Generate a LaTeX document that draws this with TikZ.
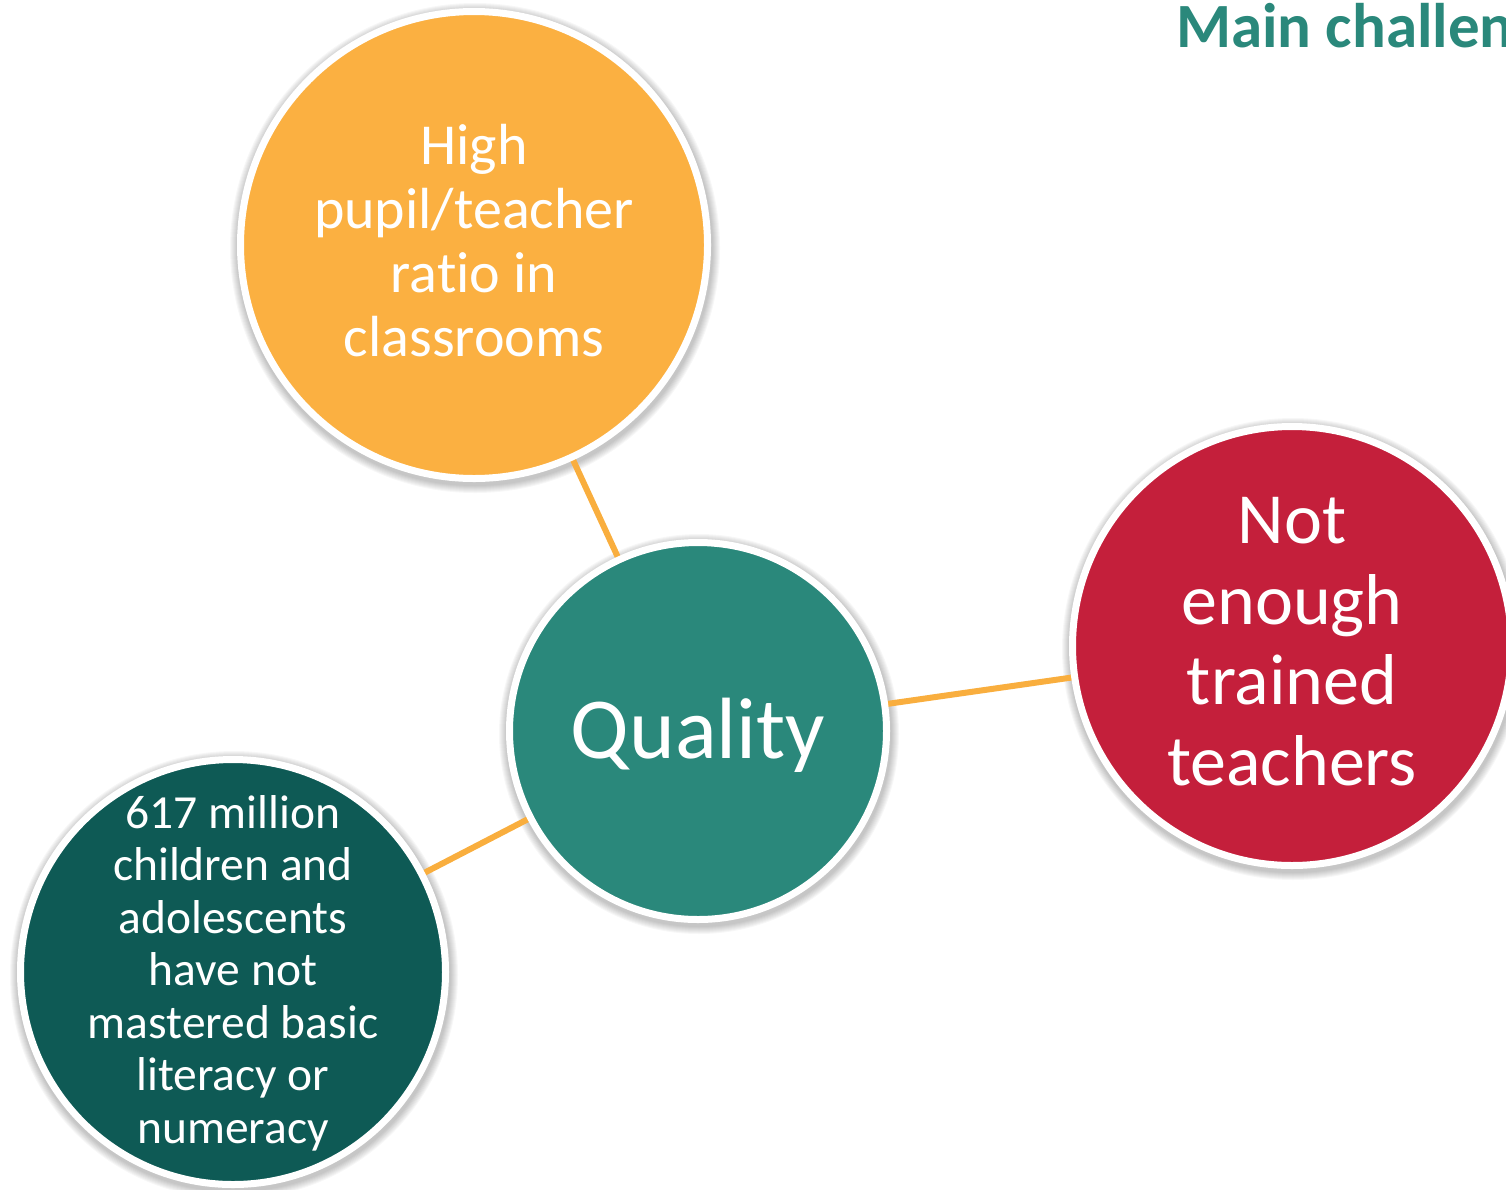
\documentclass[tikz,border=0pt]{standalone}
\usepackage{fontspec}
\setmainfont[Ligatures=NoCommon, RawFeature={-liga;-dlig;-clig}]{Carlito}
\usetikzlibrary{backgrounds}
\definecolor{corange}{HTML}{FBB041}
\definecolor{cteal}{HTML}{2A887B}
\definecolor{cred}{HTML}{C41F3B}
\definecolor{cdark}{HTML}{0E5A55}
\definecolor{clink}{HTML}{F9AE3E}
\begin{document}
\begin{tikzpicture}[x=1pt,y=-1pt,
  bubble/.style={circle, draw=white, line width=7pt, inner sep=0pt},
  btext/.style={text=white, align=center, inner sep=0pt},
  link/.style={draw=clink, line width=6pt}]
\useasboundingbox (0,0) rectangle (1506,1189);
\clip (0,0) rectangle (1506,1189);
% bubbles
\node[bubble, fill=corange, minimum size=467pt] (hi) at (474,245) {};
\node[bubble, fill=cteal, minimum size=377pt] (q) at (698,731) {};
\node[bubble, fill=cred, minimum size=439pt] (nt) at (1292,646) {};
\node[bubble, fill=cdark, minimum size=425pt] (mil) at (233,972) {};
% texts
\node[btext, font=\fontsize{58}{64}\selectfont] (hitxt) at ([yshift=4pt]hi.center)
  {High\\pupil/teacher\\ratio in\\classrooms};
\node[btext, font=\fontsize{87}{96}\selectfont] (qtxt) at ([yshift=-4pt]q.center) {Quality};
\node[btext, font=\fontsize{72}{80.5}\selectfont] (nttxt) at ([yshift=4.5pt]nt.center)
  {Not\\enough\\trained\\teachers};
\node[btext, font=\fontsize{47.5}{52.5}\selectfont] (miltxt) at ([yshift=-1pt]mil.center)
  {617 million\\children and\\adolescents\\have not\\mastered basic\\literacy or\\numeracy};
% title
\node[anchor=base west, inner sep=0pt, text=cteal, font=\bfseries\fontsize{63}{70}\selectfont] (title) at (1176,47) {Main challen};
% shadows and connectors behind
\begin{scope}[on background layer]
  \foreach \n/\r in {hi/237, q/192, nt/223, mil/216}{
    \foreach \k in {1,...,8}{
      \fill[black, opacity=0.03] ([xshift=1pt,yshift=-3pt]\n.center) circle[radius={(\r+\k)*1pt}];
    }
  }
  \draw[link] (q.center) -- (hi.center);
  \draw[link] (q.center) -- (nt.center);
  \draw[link] (q.center) -- (mil.center);
\end{scope}
\end{tikzpicture}
\end{document}
